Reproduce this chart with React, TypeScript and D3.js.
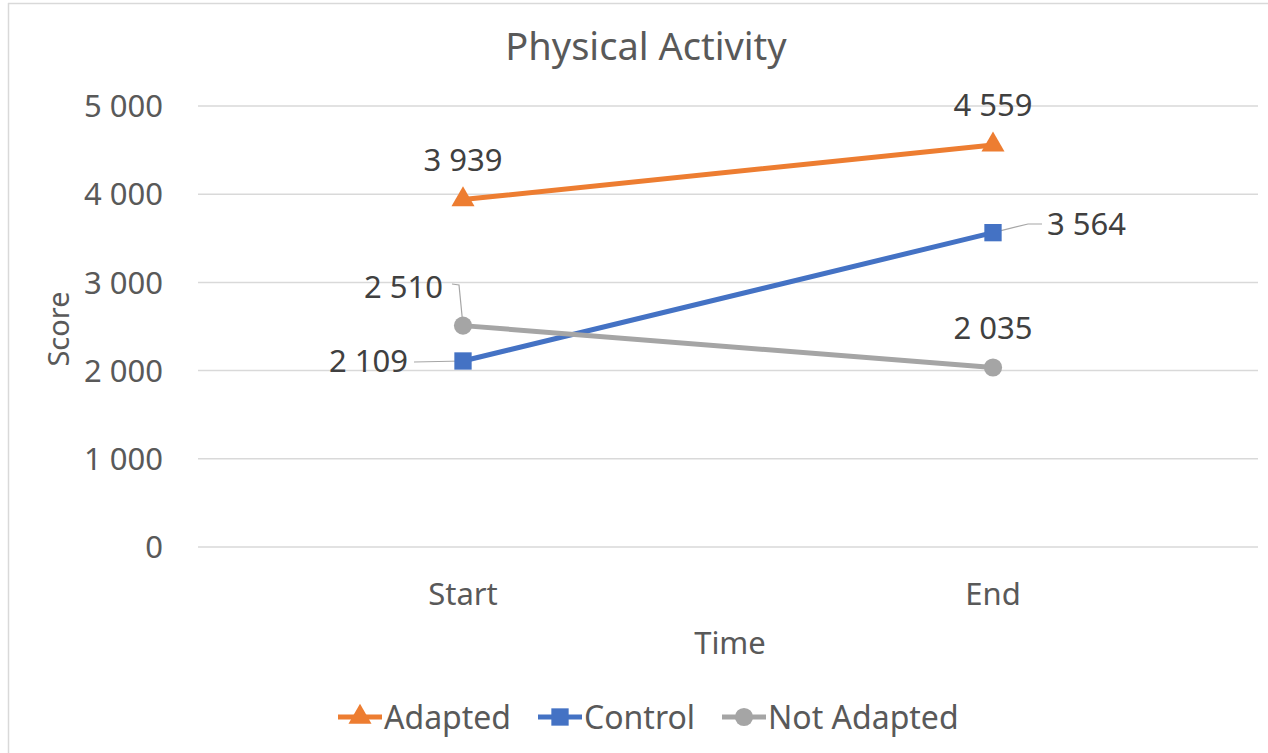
import React, { useEffect, useRef } from 'react';
import * as d3 from 'd3';

const categories = ['Start', 'End'];
const seriesNames = ['Adapted', 'Control', 'Not Adapted'];
const adapted = [3939, 4559];
const control = [2109, 3564];
const notAdapted = [2510, 2035];
const yTicks = [0, 1000, 2000, 3000, 4000, 5000];

const colors = ['#ED7D31', '#4472C4', '#A5A5A5'];
const FONT = '"Noto Sans", "Open Sans", sans-serif';
const TEXT = '#595959';

const fmt = (v: number) => d3.format(',')(v).replace(/,/g, ' ');

const App = () => {
  const ref = useRef<SVGSVGElement>(null);

  useEffect(() => {
    const W = 1268, H = 753;
    const margin = { top: 106, right: 10, bottom: 206, left: 198 };
    const svg = d3.select(ref.current);
    svg.selectAll('*').remove();

    svg.append('rect').attr('width', W).attr('height', H).attr('fill', '#fff');
    // frame (left and top edges visible)
    svg.append('line').attr('x1', 8.5).attr('x2', 8.5).attr('y1', 3).attr('y2', H).attr('stroke', '#d9d9d9').attr('stroke-width', 1.5);
    svg.append('line').attr('x1', 8).attr('x2', W).attr('y1', 3.5).attr('y2', 3.5).attr('stroke', '#d9d9d9').attr('stroke-width', 1.5);

    const x = d3.scaleBand().domain(categories).range([margin.left, W - margin.right]);
    const y = d3.scaleLinear().domain([0, 5000]).range([H - margin.bottom, margin.top]);
    const cx = (c: string) => (x(c) as number) + x.bandwidth() / 2;

    // title
    svg.append('text').attr('x', 646).attr('y', 60).attr('text-anchor', 'middle')
      .attr('font-family', FONT).attr('font-size', 38).attr('fill', TEXT).text('Physical Activity');

    // gridlines + tick labels
    const g = svg.append('g');
    g.selectAll('line.grid').data(yTicks).enter().append('line')
      .attr('class', 'grid')
      .attr('x1', margin.left).attr('x2', W - margin.right)
      .attr('y1', d => y(d)).attr('y2', d => y(d))
      .attr('stroke', '#d9d9d9').attr('stroke-width', 1.5);
    g.selectAll('text.tick').data(yTicks).enter().append('text')
      .attr('class', 'tick')
      .attr('x', 163).attr('y', d => y(d)).attr('dy', '0.36em')
      .attr('text-anchor', 'end').attr('font-family', FONT).attr('font-size', 31).attr('fill', TEXT)
      .text(d => fmt(d));

    // x labels
    g.selectAll('text.cat').data(categories).enter().append('text')
      .attr('class', 'cat')
      .attr('x', d => cx(d)).attr('y', 605).attr('text-anchor', 'middle')
      .attr('font-family', FONT).attr('font-size', 31).attr('fill', TEXT).text(d => d);

    // axis titles
    svg.append('text').attr('x', 730).attr('y', 654).attr('text-anchor', 'middle')
      .attr('font-family', FONT).attr('font-size', 31).attr('fill', TEXT).text('Time');
    svg.append('text').attr('transform', 'translate(69,329) rotate(-90)').attr('text-anchor', 'middle')
      .attr('font-family', FONT).attr('font-size', 29).attr('fill', TEXT).text('Score');

    const series = [adapted, control, notAdapted];
    const symbols = [d3.symbolTriangle, d3.symbolSquare, d3.symbolCircle];
    const symSize = [230, 300, 260];

    const line = d3.line<number>().x((_, i) => cx(categories[i])).y(d => y(d));

    series.forEach((vals, si) => {
      svg.append('path').attr('d', line(vals) as string).attr('fill', 'none')
        .attr('stroke', colors[si]).attr('stroke-width', 5).attr('stroke-linecap', 'round');
    });

    // leader lines
    const leader = (pts: [number, number][]) =>
      svg.append('path').attr('d', d3.line()(pts) as string).attr('fill', 'none')
        .attr('stroke', '#a6a6a6').attr('stroke-width', 1.2);
    leader([[cx('Start'), y(notAdapted[0])], [459, 285], [452, 284]]);
    leader([[cx('Start'), y(control[0])], [414, 362]]);
    leader([[cx('End'), y(control[1])], [1028, 224], [1042, 224]]);

    series.forEach((vals, si) => {
      svg.selectAll(null).data(vals).enter().append('path')
        .attr('transform', (d, i) => `translate(${cx(categories[i])},${y(d)})`)
        .attr('d', d3.symbol(symbols[si], symSize[si]) as any)
        .attr('fill', colors[si]);
    });

    // data labels
    const label = (text: string, lx: number, ly: number, anchor: string) =>
      svg.append('text').attr('x', lx).attr('y', ly).attr('dy', '0.36em').attr('text-anchor', anchor)
        .attr('font-family', FONT).attr('font-size', 31).attr('fill', '#404040').text(text);
    label(fmt(adapted[0]), cx('Start'), y(adapted[0]) - 40, 'middle');
    label(fmt(adapted[1]), cx('End'), y(adapted[1]) - 40, 'middle');
    label(fmt(control[0]), 408, y(control[0]), 'end');
    label(fmt(control[1]), 1047, 224, 'start');
    label(fmt(notAdapted[0]), 443, 287, 'end');
    label(fmt(notAdapted[1]), cx('End'), y(notAdapted[1]) - 40, 'middle');

    // legend
    const legendX = [338, 538, 722];
    const ly = 717;
    const lg = svg.selectAll('g.legend').data(seriesNames).enter().append('g')
      .attr('class', 'legend').attr('transform', (_, i) => `translate(${legendX[i]},${ly})`);
    lg.append('line').attr('x1', 0).attr('x2', 44).attr('stroke', (_, i) => colors[i]).attr('stroke-width', 5);
    lg.append('path').attr('transform', 'translate(22,0)')
      .attr('d', (_, i) => d3.symbol(symbols[i], symSize[i])() as string)
      .attr('fill', (_, i) => colors[i]);
    lg.append('text').attr('x', 46).attr('dy', '0.36em')
      .attr('font-family', FONT).attr('font-size', 32).attr('fill', TEXT).text(d => d);
  }, []);

  return (
    <svg ref={ref} width={1268} height={753}
      style={{ position: 'absolute', left: 0, top: 0, display: 'block' }} />
  );
};

export default App;
